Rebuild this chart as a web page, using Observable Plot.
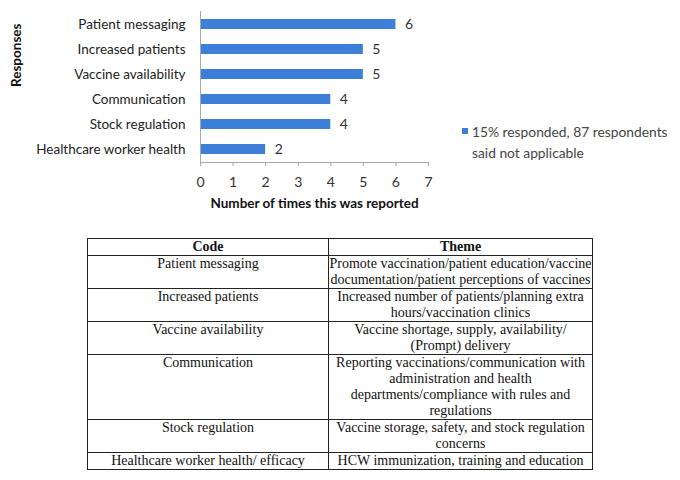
<!DOCTYPE html>
<html>
<head>
<meta charset="utf-8">
<script src="https://cdn.jsdelivr.net/npm/d3@7"></script>
<script src="https://cdn.jsdelivr.net/npm/@observablehq/plot@0.6"></script>
<style>
  html, body { margin: 0; padding: 0; background: #fff; }
  #wrap { position: relative; width: 680px; height: 480px; overflow: hidden; }
  #chart { position: absolute; left: 0; top: 0; }
  #legend { position: absolute; left: 462px; top: 121px; font: 13.8px Lato, sans-serif; color: #444; line-height: 21px; }
  #legend .sw { position: absolute; left: 0; top: 7px; width: 6px; height: 6px; background: #3d7fd8; }
  #legend .tx { margin-left: 10px; white-space: nowrap; }
  #legend .tx2 { margin-left: 10px; white-space: nowrap; }
  table { position: absolute; left: 87px; top: 238px; width: 506px; border-collapse: collapse;
          font: 14px "Liberation Serif", "Times New Roman", serif; color: #111; }
  td, th { border: 1px solid #222; padding: 0; text-align: center; vertical-align: top; line-height: 16px; white-space: nowrap; }
  th { font-weight: bold; }
  td:first-child, th:first-child { width: 240px; }
</style>
</head>
<body>
<div id="wrap">
  <div id="chart"></div>
  <div id="legend"><div class="sw"></div><div class="tx" id="leg1"></div><div class="tx2" id="leg2"></div></div>
  <table id="tbl"></table>
</div>
<script>
// Chart data
const categories = ["Patient messaging", "Increased patients", "Vaccine availability", "Communication", "Stock regulation", "Healthcare worker health"];
const counts = [6, 5, 5, 4, 4, 2];
const xTicks = [0, 1, 2, 3, 4, 5, 6, 7];
const legendLines = ["15% responded, 87 respondents", "said not applicable"];
const xTitle = "Number of times this was reported";
const yTitle = "Responses";

// Table data
const tableHeader = ["Code", "Theme"];
const tableCodes = ["Patient messaging", "Increased patients", "Vaccine availability", "Communication", "Stock regulation", "Healthcare worker health/ efficacy"];
const tableThemes = [
  ["Promote vaccination/patient education/vaccine", "documentation/patient perceptions of vaccines"],
  ["Increased number of patients/planning extra", "hours/vaccination clinics"],
  ["Vaccine shortage, supply, availability/", "(Prompt) delivery"],
  ["Reporting vaccinations/communication with", "administration and health", "departments/compliance with rules and", "regulations"],
  ["Vaccine storage, safety, and stock regulation", "concerns"],
  ["HCW immunization, training and education"]
];

const data = categories.map((c, i) => ({category: c, value: counts[i]}));

const baseline = (index, scales, values, dimensions) => {
  const {marginTop, marginBottom, height} = dimensions;
  const yb = height - marginBottom + 0.5;
  const g = d3.create("svg:g").attr("stroke", "#a8a8a8").attr("stroke-width", 1);
  g.append("line").attr("x1", scales.x(0)).attr("x2", scales.x(7)).attr("y1", yb).attr("y2", yb);
  g.append("line").attr("x1", scales.x(0) + 0.5).attr("x2", scales.x(0) + 0.5).attr("y1", marginTop).attr("y2", yb);
  return g.node();
};

const chart = Plot.plot({
  width: 680,
  height: 230,
  marginLeft: 200,
  marginRight: 252,
  marginTop: 11,
  marginBottom: 68,
  style: {fontFamily: "Lato, sans-serif", fontSize: "13px", color: "#222", background: "transparent"},
  x: {domain: [0, 7]},
  y: {domain: categories, paddingInner: 0.6, paddingOuter: 0.32},
  marks: [
    Plot.barX(data, {x: "value", y: "category", fill: "#3d7fd8"}),
    Plot.text(data, {x: "value", y: "category", text: d => String(d.value), dx: 9, textAnchor: "start", fontSize: 14, fill: "#333"}),
    baseline,
    Plot.axisX({ticks: xTicks, tickFormat: "d", tickSize: 4, tickPadding: 11, stroke: "#a8a8a8", fill: "#333", fontSize: 14, label: null}),
    Plot.axisY({tickSize: 0, tickPadding: 15, label: null, fill: "#222", fontSize: 13.5}),
    Plot.text([xTitle], {frameAnchor: "bottom", dy: 45, fontWeight: "bold", fontSize: 13.5, fill: "#111"}),
    Plot.text([yTitle], {frameAnchor: "left", dx: -184, rotate: -90, fontWeight: "bold", fontSize: 13.5, fill: "#111"})
  ]
});
document.getElementById("chart").appendChild(chart);

document.getElementById("leg1").textContent = legendLines[0];
document.getElementById("leg2").textContent = legendLines[1];

const tbl = document.getElementById("tbl");
const hr = document.createElement("tr");
tableHeader.forEach(h => { const th = document.createElement("th"); th.textContent = h; hr.appendChild(th); });
tbl.appendChild(hr);
tableCodes.forEach((code, i) => {
  const tr = document.createElement("tr");
  const td1 = document.createElement("td"); td1.textContent = code;
  const td2 = document.createElement("td");
  tableThemes[i].forEach((line, j) => {
    if (j) td2.appendChild(document.createElement("br"));
    td2.appendChild(document.createTextNode(line));
  });
  tr.appendChild(td1); tr.appendChild(td2);
  tbl.appendChild(tr);
});
</script>
</body>
</html>
